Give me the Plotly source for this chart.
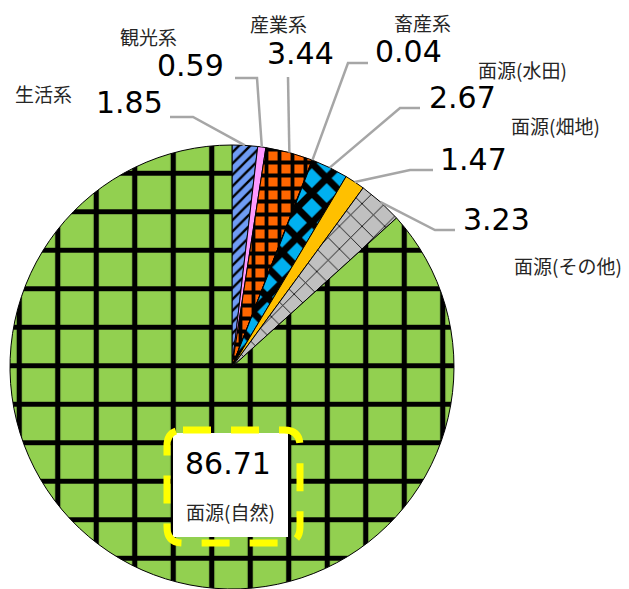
import math
import plotly.graph_objects as go

# ---- data -------------------------------------------------------------
categories = ["生活系", "観光系", "産業系", "畜産系",
              "面源(水田)", "面源(畑地)", "面源(その他)", "面源(自然)"]
values = [1.85, 0.59, 3.44, 0.04, 2.67, 1.47, 3.23, 86.71]
value_labels = ["1.85", "0.59", "3.44", "0.04", "2.67", "1.47", "3.23", "86.71"]

# ---- styling ----------------------------------------------------------
W, H = 629, 589
CX, CY, R = 232, 367, 222          # pie centre and radius (px)

fill_colors = ["#6F9CF4", "#FF99FF", "#FF6600", "#000000",
               "#00B0F0", "#FFC000", "#C0C0C0", "#92D050"]
pattern_shapes = ["/", "", "+", "", "x", "", "x", "+"]
pattern_sizes = [8, 8, 13, 8, 21, 8, 16, 38.5]
pattern_solidity = [0.3, 0.2, 0.5, 0.2, 0.55, 0.2, 0.1, 0.25]

# label anchor positions (px): category name, value text
name_pos = [(43, 94), (148, 36), (278, 23), (422, 22),
            (522, 69), (555, 125), (568, 265), (230, 511)]
value_pos = [(129, 103), (190, 66), (300, 54), (408, 52),
             (462, 97), (473, 159), (496, 219), (228, 463)]
# leader line: label end and elbow (px); None for the in-slice label
leader_pts = [((170, 117), (193, 117)), ((235, 78), (257, 78)),
              ((288, 77), (288, 77)), ((368, 63), (348, 63)),
              ((420, 108), (400, 108)), ((433, 170), (410, 170)),
              ((455, 230), (435, 230)), None]


def px(x, y):
    return x / W, 1 - y / H


fig = go.Figure(go.Pie(
    labels=categories,
    values=values,
    sort=False,
    direction="clockwise",
    rotation=0,
    textinfo="none",
    hoverinfo="label+value",
    showlegend=False,
    domain=dict(x=[(CX - R) / W, (CX + R) / W], y=[1 - (CY + R) / H, 1 - (CY - R) / H]),
    marker=dict(
        colors=fill_colors,
        line=dict(color="#000000", width=1),
        pattern=dict(
            shape=pattern_shapes,
            size=pattern_sizes,
            solidity=pattern_solidity,
            fgcolor="#000000",
            fgopacity=1,
            bgcolor=fill_colors,
            fillmode="overlay",
        ),
    ),
))

shapes = []
annotations = []

# leader lines from each slice's mid-angle on the rim
total = sum(values)
cum = 0.0
for v, pts in zip(values, leader_pts):
    mid = (cum + v / 2) / total * 2 * math.pi
    cum += v
    if pts is None:
        continue
    ex, ey = CX + R * math.sin(mid), CY - R * math.cos(mid)
    (sx, sy), (bx, by) = pts
    p1, p2, p3 = px(sx, sy), px(bx, by), px(ex, ey)
    shapes.append(dict(
        type="path", xref="paper", yref="paper",
        path=f"M{p1[0]},{p1[1]} L{p2[0]},{p2[1]} L{p3[0]},{p3[1]}",
        line=dict(color="#A6A6A6", width=2.5),
    ))

# label box for the dominant slice
bx0, by0, bx1, by1 = 173, 433, 288, 537
x0, y0 = px(bx0, by1)
x1, y1 = px(bx1, by0)
shapes.append(dict(type="rect", xref="paper", yref="paper",
                   x0=x0, y0=y0, x1=x1, y1=y1,
                   fillcolor="#FFFFFF", line=dict(width=0)))

# dashed rounded frame around it
fx0, fy0, fx1, fy1, rc = 167, 430, 300, 543, 16
corner = [
    ("M", fx0 + rc, fy0), ("L", fx1 - rc, fy0), ("Q", fx1, fy0, fx1, fy0 + rc),
    ("L", fx1, fy1 - rc), ("Q", fx1, fy1, fx1 - rc, fy1),
    ("L", fx0 + rc, fy1), ("Q", fx0, fy1, fx0, fy1 - rc),
    ("L", fx0, fy0 + rc), ("Q", fx0, fy0, fx0 + rc, fy0),
]
segs = []
for seg in corner:
    cmd, coords = seg[0], seg[1:]
    pts = []
    for i in range(0, len(coords), 2):
        a, b = px(coords[i], coords[i + 1])
        pts.append(f"{a},{b}")
    segs.append(cmd + " ".join(pts))
shapes.append(dict(type="path", xref="paper", yref="paper",
                   path=" ".join(segs),
                   line=dict(color="#FFFF00", width=7, dash="28px,20px")))

for name, val, (nx, ny), (vx, vy) in zip(categories, value_labels, name_pos, value_pos):
    a, b = px(nx, ny)
    annotations.append(dict(
        x=a, y=b, xref="paper", yref="paper", text=name, showarrow=False,
        xanchor="center", yanchor="middle",
        font=dict(family="Noto Sans CJK JP", size=19, color="#262626"),
    ))
    a, b = px(vx, vy)
    annotations.append(dict(
        x=a, y=b, xref="paper", yref="paper", text=val, showarrow=False,
        xanchor="center", yanchor="middle",
        font=dict(family="DejaVu Sans", size=30, color="#000000"),
    ))

fig.update_layout(
    width=W, height=H,
    margin=dict(l=0, r=0, t=0, b=0),
    paper_bgcolor="#FFFFFF",
    plot_bgcolor="#FFFFFF",
    shapes=shapes,
    annotations=annotations,
)

fig.write_html("out.html")
